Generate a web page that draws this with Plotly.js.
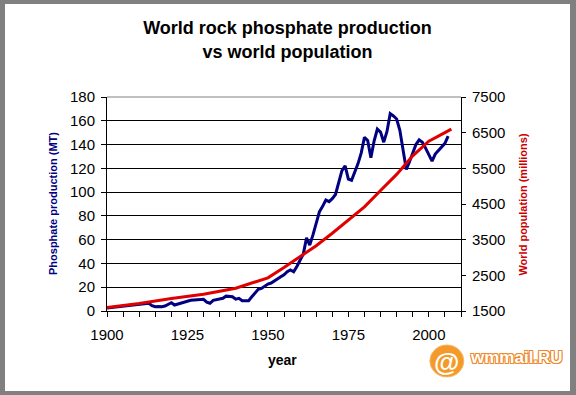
<!DOCTYPE html>
<html>
<head>
<meta charset="utf-8">
<script src="https://cdn.plot.ly/plotly-3.0.1.min.js"></script>
<style>
  html, body { margin: 0; padding: 0; }
  #frame { position: relative; width: 576px; height: 395px; background: #808080; overflow: hidden; }
  #chart { position: absolute; left: 5px; top: 4px; width: 565px; height: 387px; background: #ffffff; }
</style>
</head>
<body>
<div id="frame"><div id="chart"></div></div>
<script>
// Phosphate production (MT), yearly
const phosYears = [];
for (let y = 1900; y <= 2006; y++) phosYears.push(y);
const phosValues = [
  2.5, 2.8, 3.0, 3.2, 3.5, 3.7, 4.0, 4.3, 4.4, 4.7,        // 1900-1909
  5.0, 5.4, 6.0, 6.5, 4.5, 3.6, 3.8, 3.6, 4.2, 5.5,        // 1910-1919
  7.0, 5.0, 5.8, 6.5, 7.6, 8.7, 9.0, 9.3, 9.6, 9.8,        // 1920-1929
  9.8, 7.5, 6.5, 9.0, 9.6, 10.0, 10.7, 12.5, 12.3, 12.0,   // 1930-1939
  10.0, 10.7, 8.7, 8.5, 8.7, 12.0, 15.0, 18.2, 19.0, 21.0, // 1940-1949
  22.7, 23.5, 25.5, 27.0, 28.8, 30.5, 33.0, 34.5, 33.0, 37.5, // 1950-1959
  42.5, 48, 61.5, 55.5, 64, 74, 83.5, 88, 93.4, 92,        // 1960-1969
  94.5, 98, 107, 118, 122, 111, 110, 117, 124, 133,        // 1970-1979
  146, 143.5, 129, 143, 153, 150.5, 142, 151, 166, 164,    // 1980-1989
  161.5, 152, 137, 119, 125.6, 133, 140, 144, 142, 137,    // 1990-1999
  131, 126, 132, 135, 138, 141, 147                        // 2000-2006
];

// World population (millions)
const popYears  = [1900, 1910, 1920, 1930, 1940, 1950, 1955, 1960, 1965, 1970, 1975, 1980, 1985, 1990, 1995, 2000, 2005, 2007];
const popValues = [1600, 1710, 1850, 1970, 2140, 2430, 2720, 3030, 3330, 3680, 4060, 4420, 4880, 5330, 5850, 6260, 6500, 6600];

const FONT = "Liberation Sans, Arial, sans-serif";

const traces = [
  {
    x: phosYears, y: phosValues, type: 'scatter', mode: 'lines',
    line: { color: '#000080', width: 3 }, yaxis: 'y', hoverinfo: 'skip'
  },
  {
    x: popYears, y: popValues, type: 'scatter', mode: 'lines',
    line: { color: '#e00000', width: 3 }, yaxis: 'y2', hoverinfo: 'skip'
  }
];

const layout = {
  width: 565, height: 387,
  margin: { l: 102, r: 109, t: 93, b: 80 },
  paper_bgcolor: '#ffffff', plot_bgcolor: '#ffffff',
  font: { family: FONT, color: '#000000', size: 15 },
  showlegend: false,
  title: {
    text: 'World rock phosphate production<br>vs world population',
    font: { family: FONT, size: 18, weight: 'bold', color: '#000000' },
    x: 0.5, xref: 'container', xanchor: 'center',
    y: 0.922, yref: 'container', yanchor: 'top'
  },
  xaxis: {
    range: [1900, 2010], tick0: 1900, dtick: 25,
    showgrid: false, zeroline: false,
    showline: true, linecolor: '#000000', linewidth: 1,
    ticks: 'outside', ticklen: 5, tickcolor: '#000000',
    ticklabelstandoff: 5,
    minor: { dtick: 5, ticks: 'outside', ticklen: 5, tickcolor: '#000000', showgrid: false },
    tickfont: { family: FONT, size: 15, color: '#000000' }
  },
  yaxis: {
    range: [0, 180], dtick: 20,
    showgrid: true, gridcolor: '#000000', gridwidth: 1,
    zeroline: false,
    showline: true, linecolor: '#000000', linewidth: 1,
    ticks: 'outside', ticklen: 5, tickcolor: '#000000',
    ticklabelstandoff: 3,
    tickfont: { family: FONT, size: 15, color: '#000000' }
  },
  yaxis2: {
    range: [1500, 7500], dtick: 1000, tick0: 1500,
    overlaying: 'y', side: 'right',
    showgrid: false, zeroline: false,
    showline: true, linecolor: '#000000', linewidth: 1,
    ticks: 'outside', ticklen: 4, tickcolor: '#000000',
    ticklabelstandoff: 3,
    tickfont: { family: FONT, size: 15, color: '#000000' }
  },
  shapes: [
    { type: 'line', xref: 'paper', yref: 'paper', x0: 0, x1: 1, y0: 1, y1: 1,
      line: { color: '#808080', width: 1 } },
    { type: 'circle', xref: 'paper', yref: 'paper', x0: 0.912, x1: 1.008, y0: -0.308, y1: -0.159,
      fillcolor: '#f39a2a', line: { color: '#f7b860', width: 1 } }
  ],
  annotations: [
    { text: 'Phosphate production (MT)', xref: 'paper', yref: 'paper',
      x: -0.1525, y: 0.5, xanchor: 'center', yanchor: 'middle', textangle: -90, showarrow: false,
      font: { family: FONT, size: 11, weight: 'bold', color: '#000080' } },
    { text: 'World population (millions)', xref: 'paper', yref: 'paper',
      x: 1.174, y: 0.5, xanchor: 'center', yanchor: 'middle', textangle: -90, showarrow: false,
      font: { family: FONT, size: 11, weight: 'bold', color: '#cc0000' } },
    { text: 'year', xref: 'paper', yref: 'paper',
      x: 0.497, y: -0.229, xanchor: 'center', yanchor: 'middle', showarrow: false,
      font: { family: FONT, size: 14, weight: 'bold', color: '#000000' } },
    { text: '@', xref: 'paper', yref: 'paper',
      x: 0.96, y: -0.236, xanchor: 'center', yanchor: 'middle', showarrow: false,
      font: { family: FONT, size: 26, weight: 'bold', color: '#ffffff' } },
    { text: 'wmmail.RU', xref: 'paper', yref: 'paper',
      x: 1.158, y: -0.215, xanchor: 'center', yanchor: 'middle', showarrow: false,
      font: { family: FONT, size: 17, weight: 'bold', color: '#ffffff',
              shadow: '1px 1px 0 #f0882a, -1px -1px 0 #f0882a, 1px -1px 0 #f0882a, -1px 1px 0 #f0882a' } }
  ]
};

Plotly.newPlot('chart', traces, layout, { staticPlot: true, displayModeBar: false });
</script>
</body>
</html>
